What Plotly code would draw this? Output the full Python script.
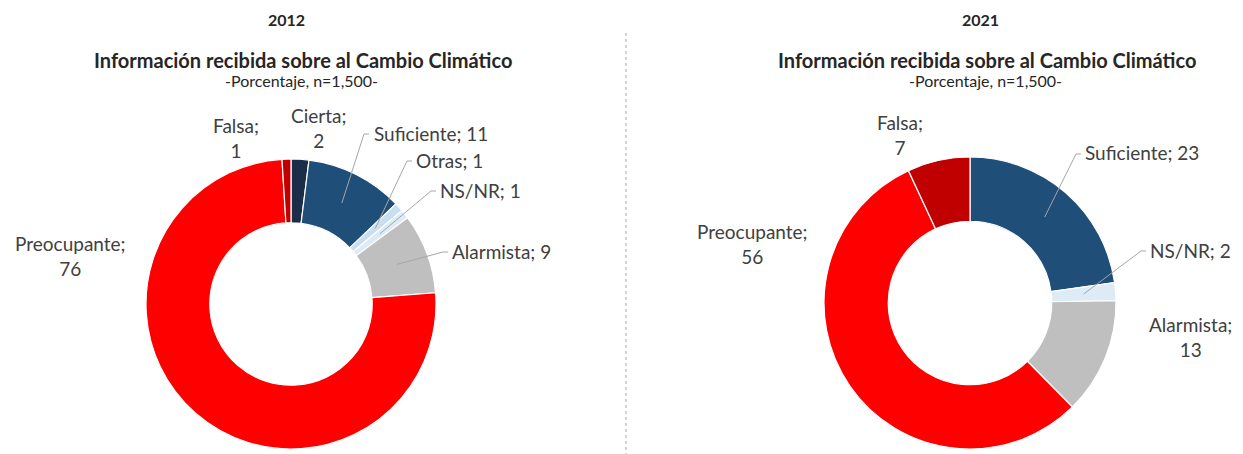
import math
import plotly.graph_objects as go

# ---------------- data ----------------
labels_2012 = ["Cierta", "Suficiente", "Otras", "NS/NR", "Alarmista", "Preocupante", "Falsa"]
values_2012 = [2, 11, 1, 1, 9, 76, 1]
labels_2021 = ["Suficiente", "NS/NR", "Alarmista", "Preocupante", "Falsa"]
values_2021 = [23, 2, 13, 56, 7]
years = ["2012", "2021"]
title_text = "Información recibida sobre al Cambio Climático"
subtitle_text = "-Porcentaje, n=1,500-"

colors = {
    "Cierta": "#1C2D4A",
    "Suficiente": "#1F4E79",
    "Otras": "#C9DEF0",
    "NS/NR": "#DDEBF7",
    "Alarmista": "#BFBFBF",
    "Preocupante": "#FF0000",
    "Falsa": "#C00000",
}

# page offset (browser body margin) compensation
OFF = 8
W, H = 1243 - OFF, 454 - OFF
FONT = "Lato"
TXT = "#404040"
LAB_SIZE = 19

# pie geometry (reference pixels): center x, center y, radius
geo = [(291, 304, 145), (970, 303, 146)]
HOLE = 0.56

# label layout per chart: label -> (x, y, xanchor, two_lines, leader_end or None)
lab_layout = [
    {
        "Cierta": (318, 128, "center", True, None),
        "Falsa": (236, 138, "center", True, None),
        "Suficiente": (372, 133, "left", False, (369, 134)),
        "Otras": (414, 160, "left", False, (412, 161)),
        "NS/NR": (438, 190, "left", False, (436, 191)),
        "Alarmista": (450, 251, "left", False, (448, 252)),
        "Preocupante": (70, 256, "center", True, None),
    },
    {
        "Falsa": (900, 135, "center", True, None),
        "Suficiente": (1083, 153, "left", False, (1081, 154)),
        "NS/NR": (1148, 250, "left", False, (1146, 251)),
        "Alarmista": (1190, 337, "center", True, None),
        "Preocupante": (752, 244, "center", True, None),
    },
]


def px(x):
    return (x - OFF) / W


def py(y):
    return 1 - (y - OFF) / H


fig = go.Figure()
shapes = []
annotations = []

for i, (labs, vals) in enumerate([(labels_2012, values_2012), (labels_2021, values_2021)]):
    cx, cy, r = geo[i]
    fig.add_trace(go.Pie(
        labels=labs, values=vals, hole=HOLE, sort=False, direction="clockwise",
        rotation=0, textinfo="none", hoverinfo="label+value",
        marker=dict(colors=[colors[l] for l in labs], line=dict(color="white", width=1.2)),
        domain=dict(x=[px(cx - r), px(cx + r)], y=[py(cy + r), py(cy - r)]),
        showlegend=False,
    ))
    total = sum(vals)
    cum = 0
    for lab, v in zip(labs, vals):
        theta = 2 * math.pi * (cum + v / 2) / total
        cum += v
        lx, ly, xa, two, lead = lab_layout[i][lab]
        text = f"{lab};<br>{v}" if two else f"{lab}; {v}"
        annotations.append(dict(
            x=px(lx), y=py(ly), xref="paper", yref="paper", text=text, showarrow=False,
            xanchor=xa, yanchor="middle", align="center",
            font=dict(family=FONT, size=LAB_SIZE, color=TXT),
        ))
        if lead is not None:
            ra = r * 0.78
            ax = cx + ra * math.sin(theta)
            ay = cy - ra * math.cos(theta)
            ex, ey = lead[0] - 5, lead[1]
            shapes.append(dict(
                type="line", xref="paper", yref="paper",
                x0=px(ax), y0=py(ay), x1=px(ex), y1=py(ey),
                line=dict(color="#A6A6A6", width=1),
            ))
            shapes.append(dict(
                type="line", xref="paper", yref="paper",
                x0=px(ex), y0=py(ey), x1=px(lead[0]), y1=py(lead[1]),
                line=dict(color="#A6A6A6", width=1),
            ))

# titles
title_pos = [(286, 303), (980, 987)]
for i, yr in enumerate(years):
    yx, tx = title_pos[i]
    annotations.append(dict(x=px(yx), y=py(20), xref="paper", yref="paper", text=f"<b>{yr}</b>",
                            xanchor="center", yanchor="middle", showarrow=False,
                            font=dict(family=FONT, size=16, color="#262626")))
    annotations.append(dict(x=px(tx), y=py(60), xref="paper", yref="paper", text=f"<b>{title_text}</b>",
                            xanchor="center", yanchor="middle", showarrow=False,
                            font=dict(family=FONT, size=20, color="#262626")))
    annotations.append(dict(x=px(tx - 2), y=py(80), xref="paper", yref="paper", text=subtitle_text,
                            xanchor="center", yanchor="middle", showarrow=False,
                            font=dict(family=FONT, size=16, color="#262626")))

# dashed separator
shapes.append(dict(type="line", xref="paper", yref="paper", x0=px(626), x1=px(626), y0=py(33), y1=0,
                   line=dict(color="#A6A6A6", width=1, dash="dot")))

fig.update_layout(
    width=W, height=H, margin=dict(l=0, r=0, t=0, b=0),
    paper_bgcolor="white", plot_bgcolor="white",
    shapes=shapes, annotations=annotations,
)

fig.write_html("out.html")
